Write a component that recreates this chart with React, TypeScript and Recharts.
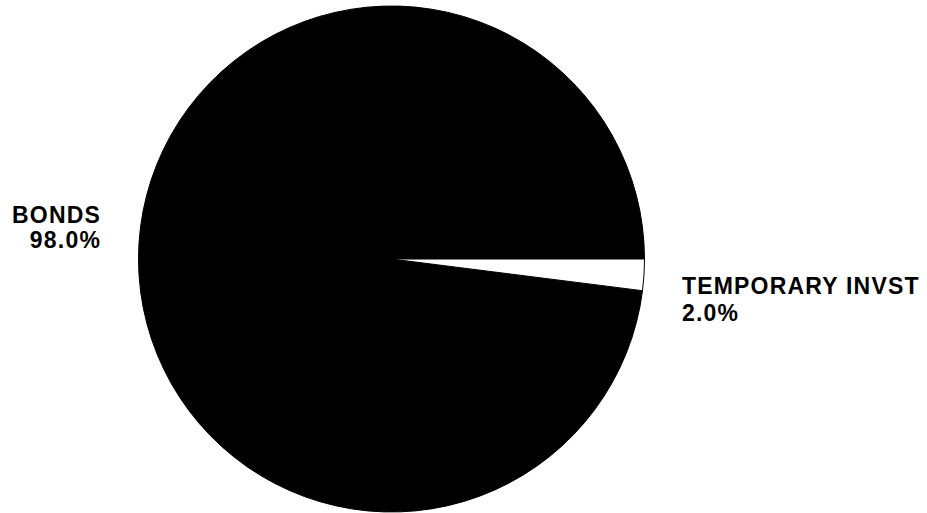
import { Cell, Pie, PieChart } from "recharts";

const categories = ["BONDS", "TEMPORARY INVST"];
const shares = [98.0, 2.0];
const fills = ["#000000", "#ffffff"];

const data = categories.map((name, i) => ({ name, value: shares[i] }));

const RADIAN = Math.PI / 180;

function renderLabel(props: any) {
  const { cx, cy, midAngle, outerRadius, index } = props;
  const r = outerRadius + 38;
  const x = cx + r * Math.cos(-midAngle * RADIAN);
  const y = cy + r * Math.sin(-midAngle * RADIAN);
  const left = x < cx;
  const base = left ? y - 18 : y + 17;
  const gap = left ? 25 : 27;
  const style = {
    fontFamily: "'Liberation Sans', Arial, sans-serif",
    fontWeight: 700,
    fontSize: 23,
    letterSpacing: 1.2,
  };
  return (
    <text x={x} textAnchor={left ? "end" : "start"} fill="#000" style={style}>
      <tspan x={x} y={base}>{categories[index]}</tspan>
      <tspan x={x} y={base + gap}>{shares[index].toFixed(1)}%</tspan>
    </text>
  );
}

export default function App() {
  return (
    <div style={{ position: "absolute", top: 0, left: 0, width: 927, height: 513, background: "#fff" }}>
      <PieChart width={927} height={513} margin={{ top: 0, right: 0, bottom: 0, left: 0 }}>
        <Pie
          data={data}
          dataKey="value"
          nameKey="name"
          cx={391.5}
          cy={259}
          outerRadius={253}
          startAngle={0}
          endAngle={360}
          stroke="#000"
          strokeWidth={1}
          label={renderLabel}
          labelLine={false}
          isAnimationActive={false}
        >
          {data.map((d, i) => (
            <Cell key={d.name} fill={fills[i]} />
          ))}
        </Pie>
      </PieChart>
    </div>
  );
}
